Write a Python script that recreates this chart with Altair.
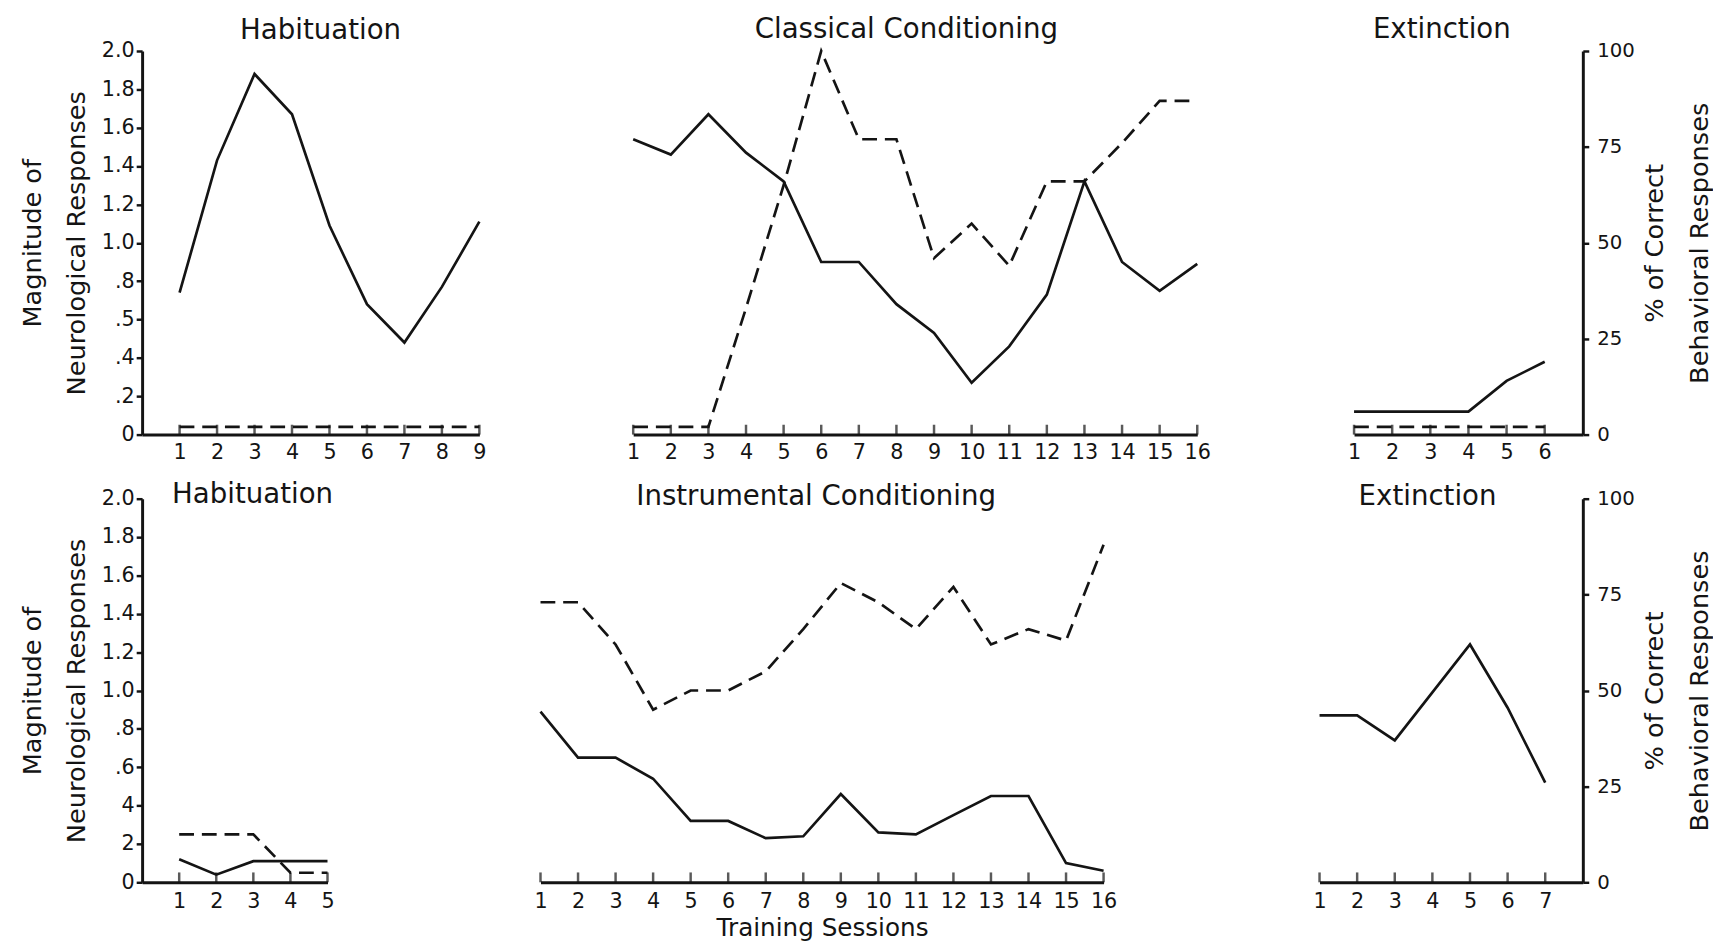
import altair as alt
import pandas as pd

FONT = "DejaVu Sans"
INK = "#141414"

# ---------------- data ----------------
# Top row (first subject group)
top_hab_sessions = [1, 2, 3, 4, 5, 6, 7, 8, 9]
top_hab_neuro = [0.74, 1.43, 1.88, 1.67, 1.09, 0.68, 0.48, 0.77, 1.11]
top_hab_pct = [2, 2, 2, 2, 2, 2, 2, 2, 2]

top_cc_sessions = [1, 2, 3, 4, 5, 6, 7, 8, 9, 10, 11, 12, 13, 14, 15, 16]
top_cc_neuro = [1.54, 1.46, 1.67, 1.47, 1.32, 0.90, 0.90, 0.68, 0.53, 0.27, 0.46, 0.73, 1.32, 0.90, 0.75, 0.89]
top_cc_pct = [2, 2, 2, 33, 65, 100, 77, 77, 46, 55, 44, 66, 66, 76, 87, 87]

top_ext_sessions = [1, 2, 3, 4, 5, 6]
top_ext_neuro = [0.12, 0.12, 0.12, 0.12, 0.28, 0.38]
top_ext_pct = [2, 2, 2, 2, 2, 2]

# Bottom row (second subject group)
bot_hab_sessions = [1, 2, 3, 4, 5]
bot_hab_neuro = [0.12, 0.04, 0.11, 0.11, 0.11]
bot_hab_pct = [12.5, 12.5, 12.5, 2.5, 2.5]

bot_ic_sessions = [1, 2, 3, 4, 5, 6, 7, 8, 9, 10, 11, 12, 13, 14, 15, 16]
bot_ic_neuro = [0.89, 0.65, 0.65, 0.54, 0.32, 0.32, 0.23, 0.24, 0.46, 0.26, 0.25, 0.35, 0.45, 0.45, 0.10, 0.06]
bot_ic_pct = [73, 73, 62, 45, 50, 50, 55, 66, 78, 73, 66, 77, 62, 66, 63, 88]

bot_ext_sessions = [1, 2, 3, 4, 5, 6, 7]
bot_ext_neuro = [0.87, 0.87, 0.74, 0.99, 1.24, 0.91, 0.52]

# axis tick labels as printed
left_tick_values = [0, 0.2, 0.4, 0.6, 0.8, 1.0, 1.2, 1.4, 1.6, 1.8, 2.0]
top_left_labels = ["0", ".2", ".4", ".5", ".8", "1.0", "1.2", "1.4", "1.6", "1.8", "2.0"]
bot_left_labels = ["0", "2", "4", ".6", ".8", "1.0", "1.2", "1.4", "1.6", "1.8", "2.0"]
right_tick_values = [0, 25, 50, 75, 100]

left_title = ["Magnitude of", "Neurological Responses"]
right_title = ["% of Correct", "Behavioral Responses"]


def label_expr(labels):
    arr = "[" + ",".join("'" + s + "'" for s in labels) + "]"
    return arr + "[round(datum.value * 5)]"


def panel(sessions, neuro, pct, title, x_domain, width, height,
          left_labels=None, right_axis=False, x_title=None,
          title_offset=14, title_dx=0, label_pad=7):
    df = pd.DataFrame({"session": sessions, "neuro": neuro})
    if pct is not None:
        df["pct"] = pct
    df["base"] = 0

    xaxis = alt.Axis(values=sessions, format="d", tickSize=0, grid=False,
                     domainWidth=3, domainColor=INK,
                     labelFont=FONT, labelFontSize=21, labelColor=INK,
                     labelPadding=label_pad, labelFlush=False,
                     title=x_title, titleFont=FONT, titleFontSize=25,
                     titleFontWeight="normal", titleColor=INK, titlePadding=4)
    x = alt.X("session:Q", scale=alt.Scale(domain=x_domain, nice=False, zero=False),
              axis=xaxis)

    if right_axis:
        raxis = alt.Axis(orient="right", values=right_tick_values, grid=False,
                         domainWidth=3, domainColor=INK, tickSize=6, tickWidth=2.5,
                         tickColor=INK, labelFont=FONT, labelFontSize=20,
                         labelColor=INK, labelPadding=8,
                         title=right_title, titleAngle=270, titleFont=FONT,
                         titleFontSize=26, titleFontWeight="normal",
                         titleColor=INK, titleLineHeight=45, titlePadding=-11)
    else:
        raxis = None

    base = alt.Chart().mark_tick(orient="vertical", size=10, thickness=2.5,
                                 color=INK, yOffset=-5).encode(
        x=x,
        y=alt.Y("base:Q", scale=alt.Scale(domain=[0, 100], nice=False), axis=raxis),
    )

    if left_labels is not None:
        laxis = alt.Axis(orient="left", values=left_tick_values, grid=False,
                         labelExpr=label_expr(left_labels),
                         domainWidth=3, domainColor=INK, tickSize=6, tickWidth=2.5,
                         tickColor=INK, labelFont=FONT, labelFontSize=21,
                         labelColor=INK, labelPadding=2,
                         title=left_title, titleFont=FONT, titleFontSize=26,
                         titleFontWeight="normal", titleColor=INK,
                         titleLineHeight=45, titlePadding=12)
    else:
        laxis = None

    solid = alt.Chart().mark_line(color=INK, strokeWidth=2.7).encode(
        x=x,
        y=alt.Y("neuro:Q", scale=alt.Scale(domain=[0, 2], nice=False), axis=laxis),
    )
    layers = [base, solid]
    if pct is not None:
        dashed = alt.Chart().mark_line(color=INK, strokeWidth=2.7,
                                       strokeDash=[15, 8]).encode(
            x=x,
            y=alt.Y("pct:Q", scale=alt.Scale(domain=[0, 100], nice=False), axis=None),
        )
        layers.append(dashed)

    return alt.layer(*layers, data=df).resolve_scale(y="independent").properties(
        width=width, height=height,
        title=alt.TitleParams(title, font=FONT, fontSize=28, fontWeight="normal",
                              color=INK, offset=title_offset, dx=title_dx,
                              anchor="middle"),
    )


p1 = panel(top_hab_sessions, top_hab_neuro, top_hab_pct, "Habituation",
           [0, 9], 342, 389, left_labels=top_left_labels, title_offset=-5, title_dx=10)
p2 = panel(top_cc_sessions, top_cc_neuro, top_cc_pct, "Classical Conditioning",
           [1, 16], 572, 389, title_offset=2, title_dx=-9)
p3 = panel(top_ext_sessions, top_ext_neuro, top_ext_pct, "Extinction",
           [1, 7], 232, 389, right_axis=True, title_offset=-3, title_dx=-27)

q1 = panel(bot_hab_sessions, bot_hab_neuro, bot_hab_pct, "Habituation",
           [0, 5], 188, 389, left_labels=bot_left_labels, title_offset=-21,
           title_dx=18, label_pad=9)
q2 = panel(bot_ic_sessions, bot_ic_neuro, bot_ic_pct, "Instrumental Conditioning",
           [1, 16], 571, 389, x_title="Training Sessions", title_offset=-12,
           title_dx=-6, label_pad=9)
q3 = panel(bot_ext_sessions, bot_ext_neuro, None, "Extinction",
           [1, 8], 267, 389, right_axis=True, title_offset=-22, title_dx=-24,
           label_pad=9)

top = alt.hconcat(alt.hconcat(p1, p2, spacing=142), p3, spacing=138)
bottom = alt.hconcat(alt.hconcat(q1, q2, spacing=202), q3, spacing=198)

chart = alt.vconcat(top, bottom, spacing=19,
                    padding={"left": 11, "top": 1, "right": 0, "bottom": 0},
                    background="white").configure_view(stroke=None)

chart.save("out.html", embed_options={"renderer": "svg", "actions": False})
